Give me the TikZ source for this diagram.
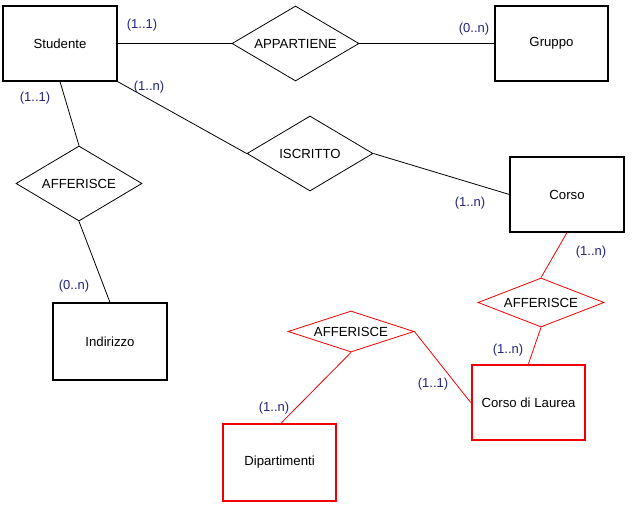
\documentclass[tikz,border=0pt]{standalone}
\usepackage{fontspec}
\setmainfont{Liberation Sans}
\usetikzlibrary{shapes.geometric}
\definecolor{lab}{RGB}{35,35,130}
\definecolor{erred}{RGB}{240,0,0}
\tikzset{
  ent/.style={draw=black,line width=1.1pt,minimum width=114pt,minimum height=75pt,inner sep=0pt,font=\fontsize{13.2}{15}\selectfont},
  redent/.style={ent,draw=erred,line width=2.6pt},
  rel/.style={draw=black,line width=0.8pt,shape=diamond,aspect=2.5,inner sep=0pt,font=\fontsize{13.2}{15}\selectfont},
  redrel/.style={rel,draw=erred},
  conn/.style={draw=black,line width=0.8pt},
  redconn/.style={draw=erred,line width=0.8pt},
  card/.style={text=lab,inner sep=0pt,font=\fontsize{13}{15}\selectfont}
}
\begin{document}
\begin{tikzpicture}[x=1pt,y=-1pt]
\useasboundingbox[fill=white] (0,0) rectangle (637,516);
% entities
\node[ent] (stud) at (60,43.5) {Studente};
\node[ent,minimum width=113pt] (grup) at (551.5,43.5) {Gruppo};
\node[ent] (corso) at (567,194.5) {Corso};
\node[ent,minimum height=77pt] (ind) at (110,341.5) {Indirizzo};
\node[redent,minimum width=113pt] (cdl) at (528.5,402.5) {Corso di Laurea};
\node[redent,minimum width=113pt,minimum height=77pt] (dip) at (279.5,462.5) {Dipartimenti};
% relationships
\node[rel,minimum width=127pt,minimum height=75pt] (app) at (295.5,43.5) {APPARTIENE};
\node[rel,minimum width=126pt,minimum height=75pt] (isc) at (310,153.5) {ISCRITTO};
\node[rel,minimum width=126pt,minimum height=75pt] (aff1) at (79,183.5) {AFFERISCE};
\node[redrel,minimum width=126pt,minimum height=49pt] (aff2) at (541,302.5) {AFFERISCE};
\node[redrel,minimum width=126pt,minimum height=41pt] (aff3) at (351,331.5) {AFFERISCE};
% connectors
\draw[conn] (stud.east) -- (app.west);
\draw[conn] (app.east) -- (grup.west);
\draw[conn] (stud.south east) -- (isc.west);
\draw[conn] (isc.east) -- (corso.west);
\draw[conn] (stud.south) -- (aff1.north);
\draw[conn] (aff1.south) -- (ind.north);
\draw[redconn] (corso.south) -- (aff2.north);
\draw[redconn] (aff2.south) -- (cdl.north);
\draw[redconn] (aff3.east) -- (cdl.west);
\draw[redconn] (aff3.south) -- ([xshift=2pt]dip.north);
% cardinalities
\node[card] (c1) at (142,25) {(1..1)};
\node[card] (c2) at (474,29) {(0..n)};
\node[card] (c3) at (149,87) {(1..n)};
\node[card] (c4) at (35,98) {(1..1)};
\node[card] (c5) at (470,203) {(1..n)};
\node[card] (c6) at (74,286) {(0..n)};
\node[card] (c7) at (591,252) {(1..n)};
\node[card] (c8) at (508,350) {(1..n)};
\node[card] (c9) at (433,384) {(1..1)};
\node[card] (c10) at (274,408) {(1..n)};
\end{tikzpicture}
\end{document}
